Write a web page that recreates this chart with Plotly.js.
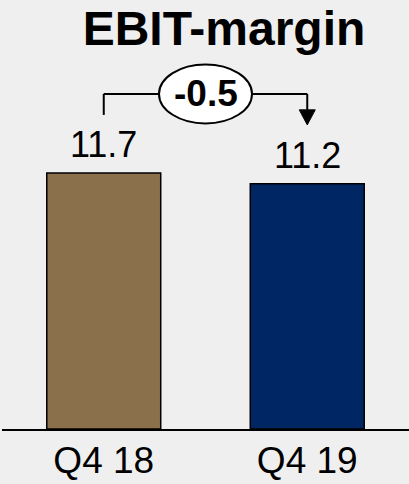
<!DOCTYPE html>
<html>
<head>
<meta charset="utf-8">
<script src="https://cdn.plot.ly/plotly-3.0.1.min.js"></script>
<style>html,body{margin:0;padding:0;background:#EFEFEF;}#chart{width:409px;height:484px;}</style>
</head>
<body>
<div id="chart"></div>
<script>
const categories = ["Q4 18", "Q4 19"];
const values = [11.7, 11.2];
const barColors = ["#8A714B", "#002663"];
const titleText = "EBIT-margin";

const FONT = "Arial, 'Liberation Sans', sans-serif";
const yMax = 19.6;
const plotH = 429;
const ppu = plotH / yMax;           // pixels per data unit
const px = p => p / ppu;            // pixel -> data units

const delta = values[1] - values[0];
const deltaText = (delta > 0 ? "+" : "") + delta.toFixed(1);

const topVal = Math.max(values[0], values[1]);
const bracketY = topVal + px(79);     // horizontal line level
const leftStart = values[0] + px(58); // left vertical start
const tipY = values[1] + px(59);      // arrow tip
const headLen = px(15);
const headHalf = 8 / 203.5;

const trace = {
  type: "bar",
  x: categories,
  y: values,
  width: 0.56,
  marker: {color: barColors, line: {color: "#000000", width: 1.5}},
  hoverinfo: "none"
};

const shapes = [
  {type: "line", xref: "x", yref: "y", x0: 0, x1: 0, y0: leftStart, y1: bracketY, line: {color: "#000", width: 2}},
  {type: "line", xref: "x", yref: "y", x0: 0, x1: 1, y0: bracketY, y1: bracketY, line: {color: "#000", width: 2}},
  {type: "line", xref: "x", yref: "y", x0: 1, x1: 1, y0: bracketY, y1: tipY + headLen, line: {color: "#000", width: 2}},
  {type: "path", xref: "x", yref: "y",
   path: `M ${1 - headHalf} ${tipY + headLen} L ${1 + headHalf} ${tipY + headLen} L 1 ${tipY} Z`,
   fillcolor: "#000", line: {color: "#000", width: 1}},
  {type: "circle", xref: "x", yref: "y", x0: 0.5 - 46.5/203.5, x1: 0.5 + 46.5/203.5,
   y0: bracketY - px(29.5), y1: bracketY + px(29.5),
   fillcolor: "#FFFFFF", line: {color: "#000", width: 2}}
];

const annotations = values.map((v, i) => ({
  x: categories[i], y: v, xref: "x", yref: "y",
  text: v.toFixed(1), showarrow: false, yanchor: "middle", yshift: 28,
  font: {family: FONT, size: 36, color: "#000"}
}));
annotations.push({
  x: 0.5, y: bracketY, xref: "x", yref: "y", text: "<b>" + deltaText + "</b>",
  showarrow: false, yanchor: "middle", xanchor: "center",
  font: {family: FONT, size: 37, color: "#000"}
});

const layout = {
  width: 409, height: 484,
  margin: {l: 2, r: 0, t: 0, b: 55},
  paper_bgcolor: "#EFEFEF",
  plot_bgcolor: "#EFEFEF",
  showlegend: false,
  title: {text: "<b>" + titleText + "</b>", x: 224/409, xanchor: "center", y: 1 - 28/484, yanchor: "middle",
          font: {family: FONT, size: 48, color: "#000"}},
  xaxis: {type: "category", range: [-0.5, 1.5], showline: true, linecolor: "#000", linewidth: 2,
          ticks: "", showgrid: false, zeroline: false, ticklabelstandoff: -2,
          tickfont: {family: FONT, size: 37, color: "#000"}, fixedrange: true},
  yaxis: {range: [0, yMax], visible: false, showgrid: false, zeroline: false, fixedrange: true},
  shapes: shapes,
  annotations: annotations
};

Plotly.newPlot("chart", [trace], layout, {displayModeBar: false, staticPlot: true});
</script>
</body>
</html>
